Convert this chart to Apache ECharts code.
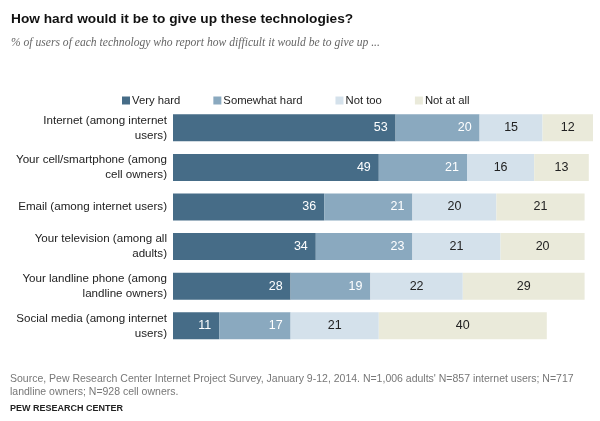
<!DOCTYPE html>
<html><head><meta charset="utf-8">
<script src="https://cdn.jsdelivr.net/npm/echarts@6/dist/echarts.min.js"></script>
<style>html,body{margin:0;padding:0;background:#fff}#c{width:600px;height:421px}</style>
</head><body><div id="c"></div>
<script>
const categories = ["Internet (among internet\nusers)", "Your cell/smartphone (among\ncell owners)", "Email (among internet users)", "Your television (among all\nadults)", "Your landline phone (among\nlandline owners)", "Social media (among internet\nusers)"];
const veryHard = [53, 49, 36, 34, 28, 11];
const somewhatHard = [20, 21, 21, 23, 19, 17];
const notToo = [15, 16, 20, 21, 22, 21];
const notAtAll = [12, 13, 21, 20, 29, 40];
const seriesNames = ["Very hard", "Somewhat hard", "Not too", "Not at all"];
const colors = ["#466c87", "#8aa9bf", "#d4e1eb", "#eaeada"];
const labelColors = ["#ffffff", "#ffffff", "#222222", "#222222"];
const allData = [veryHard, somewhatHard, notToo, notAtAll];
const FONT = "Liberation Sans";

const chart = echarts.init(document.getElementById('c'));
chart.setOption({
  animation: false,
  title: [
    {text: "How hard would it be to give up these technologies?", left: 11, top: 12, padding: 0,
     textStyle: {fontFamily: FONT, fontWeight: 'bold', fontSize: 13.7, color: '#111'}},
    {text: "% of users of each technology who report how difficult it would be to give up ...", left: 11, top: 37, padding: 0,
     textStyle: {fontFamily: "Liberation Serif", fontStyle: 'italic', fontWeight: 'normal', fontSize: 11.6, color: '#666'}}
  ],
  legend: {
    left: 122, top: 95, padding: 0, itemWidth: 8, itemHeight: 8, itemGap: 33,
    icon: 'rect',
    textStyle: {fontFamily: FONT, fontSize: 11.3, color: '#222', padding: [0,0,0,-3]},
    data: seriesNames
  },
  grid: {left: 173, top: 108, width: 420, height: 237.6, containLabel: false},
  xAxis: {type: 'value', min: 0, max: 100, show: false},
  yAxis: {type: 'category', data: categories, inverse: true,
    axisLine: {show: false}, axisTick: {show: false},
    axisLabel: {fontFamily: FONT, fontSize: 11.6, color: '#222', lineHeight: 15, align: 'right', margin: 6}},
  series: allData.map((d, i) => ({
    name: seriesNames[i], type: 'bar', stack: 'total', data: d, barWidth: 27,
    itemStyle: {color: colors[i]},
    label: {show: true, position: i < 2 ? 'insideRight' : 'inside', color: labelColors[i],
      fontFamily: FONT, fontSize: 12.5, distance: 8}
  }))
});
</script>
<div style="position:absolute;left:10px;top:372px;width:568px;font-family:'Liberation Sans';font-size:10.5px;line-height:13px;color:#777">Source, Pew Research Center Internet Project Survey, January 9-12, 2014. N=1,006 adults' N=857 internet users; N=717 landline owners; N=928 cell owners.</div>
<div style="position:absolute;left:10px;top:403px;font-family:'Liberation Sans';font-size:9px;font-weight:bold;color:#222">PEW RESEARCH CENTER</div>
</body></html>
